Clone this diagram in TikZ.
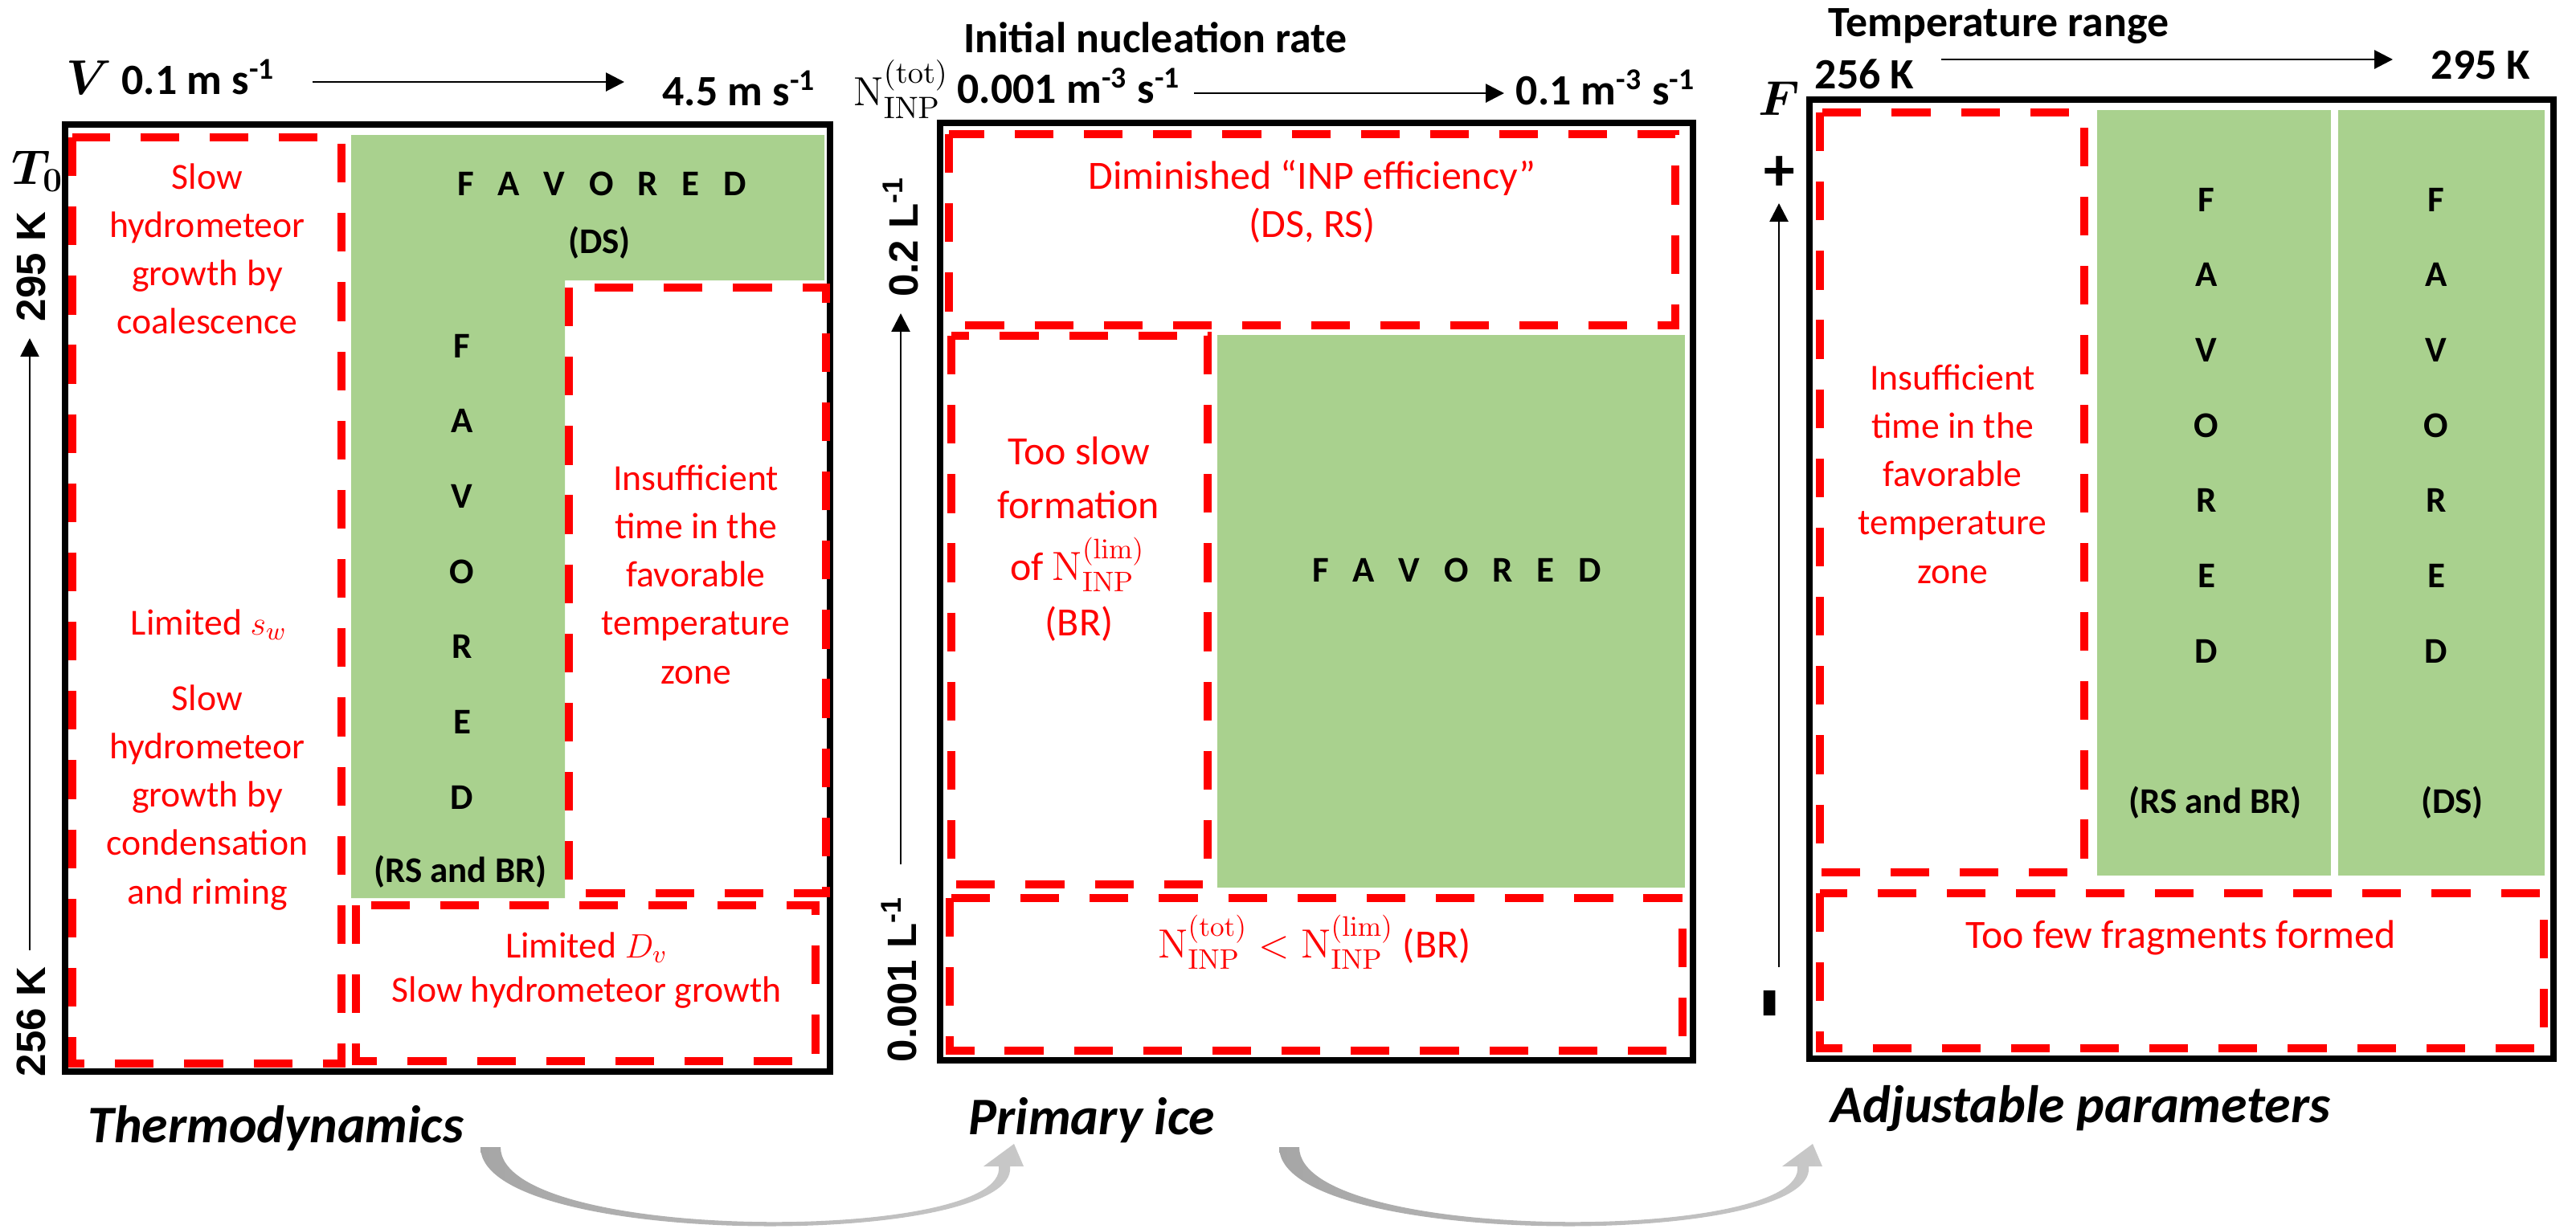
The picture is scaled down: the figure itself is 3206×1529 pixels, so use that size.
\documentclass[tikz,border=0pt]{standalone}
\usepackage{amsmath}
\usepackage[no-math]{fontspec}
\setmainfont{Carlito}
\newfontfamily\sidefont{Liberation Sans}
\usetikzlibrary{arrows.meta}

\definecolor{zonered}{HTML}{FF0000}
\definecolor{favgreen}{HTML}{A9D18E}
\definecolor{arrowdark}{HTML}{A6A6A6}
\definecolor{arrowlight}{HTML}{C8C8C8}

\newcommand{\spacedfav}{F\hspace{8.5pt}A\hspace{8.5pt}V\hspace{8.5pt}O\hspace{8.5pt}R\hspace{8.5pt}E\hspace{8.5pt}D}
\newcommand{\ninp}[1]{\mathrm{N}^{(\mathrm{#1})}_{\mathrm{INP}}}

\begin{document}
\begin{tikzpicture}[x=0.01cm, y=-0.01cm,
  panel/.style={draw=black, line width=2.3pt},
  zone/.style={draw=zonered, line width=3.1pt, dash pattern=on 13.7pt off 10.8pt},
  note/.style={text=zonered, font=\fontsize{13}{16}\selectfont, inner sep=0pt, anchor=base},
  bignote/.style={note, font=\fontsize{14.2}{17}\selectfont},
  fav/.style={font=\fontsize{12.8}{15}\selectfont\bfseries, inner sep=0pt, anchor=base},
  head/.style={font=\fontsize{15.3}{18}\selectfont\bfseries, inner sep=0pt, anchor=base west},
  title/.style={font=\fontsize{18.7}{22}\selectfont\bfseries\itshape, inner sep=0pt, anchor=base west},
  sym/.style={font=\fontsize{18}{21}\selectfont, inner sep=0pt, anchor=base west},
  side/.style={font=\sidefont\bfseries\fontsize{14.5}{17}\selectfont, rotate=90, inner sep=0pt, anchor=base},
  axis/.style={line width=0.8pt, -{Triangle[length=6.5pt, width=6.5pt]}},
]
\useasboundingbox (0,0) rectangle (3206,1529);

% favoured regions
\fill[favgreen] (437,168) -- (1026,168) -- (1026,349) -- (703,349) -- (703,1118) -- (437,1118) -- cycle;
\fill[favgreen] (1515,417) rectangle (2097,1105);
\fill[favgreen] (2610,137) rectangle (2901,1090);
\fill[favgreen] (2910,137) rectangle (3167,1090);

% panels
\draw[panel] (81,155) rectangle (1033,1334);
\draw[panel] (1170,153) rectangle (2107,1320);
\draw[panel] (2252,124) rectangle (3178,1318);

% limiting zones
\draw[zone] (90,171) rectangle (425,1324);
\draw[zone] (708,358) rectangle (1028,1112);
\draw[zone] (443,1127) rectangle (1015,1321);
\draw[zone] (1181,167) rectangle (2085,405);
\draw[zone] (1184,418) rectangle (1503,1101);
\draw[zone] (1182,1118) rectangle (2094,1308);
\draw[zone] (2265,140) rectangle (2594,1086);
\draw[zone] (2265,1112) rectangle (3166,1305);

% thermodynamics
\node[sym] (vel) at (82,117) {$\boldsymbol{V}$};
\node[head] (vlo) at (151,117) {0.1 m s\textsuperscript{-1}};
\node[head] (vhi) at (824,131) {4.5 m s\textsuperscript{-1}};
\coordinate (va) at (389,102);
\coordinate (vb) at (777,102);
\draw[axis] (va) -- (vb);
\node[sym] (tnull) at (14,229) {$\boldsymbol{T_0}$};
\node[side] (thi) at (56,332) {295 K};
\node[side] (tlo) at (56,1272) {256 K};
\coordinate (ta) at (37,1183);
\coordinate (tb) at (37,421);
\draw[axis] (ta) -- (tb);

\foreach \txt [count=\i from 0] in {Slow, hydrometeor, growth by, coalescence}
  \node[note] (coal\i) at (258, 235+60*\i) {\txt};
\node[note] (sw) at (260,790) {Limited $s_w$};
\foreach \txt [count=\i from 0] in {Slow, hydrometeor, growth by, condensation, and riming}
  \node[note] (cond\i) at (258, 884+60.25*\i) {\txt};

\node[fav] (favds) at (749,243) {\spacedfav};
\node[fav] (ds1) at (746,315) {(DS)};
\foreach \ch [count=\i from 0] in {F,A,V,O,R,E,D}
  \node[fav] (colA\i) at (575, 445+93.7*\i) {\ch};
\node[fav] (rsbr1) at (573,1098) {(RS and BR)};

\foreach \txt [count=\i from 0] in {Insufficient, time in the, favorable, temperature, zone}
  \node[note] (ins\i) at (866, 610+60.25*\i) {\txt};
\node[note] (dv) at (730,1192) {Limited $D_v$};
\node[note] (slowdv) at (730,1247) {Slow hydrometeor growth};
\node[title] (thermo) at (109,1422) {Thermodynamics};

% primary ice
\node[head, anchor=base] (nucl) at (1438,65) {Initial nucleation rate};
\node[sym, font=\fontsize{15}{18}\selectfont] (ntot) at (1062,131) {$\ninp{tot}$};
\node[head] (nlo) at (1191,128) {0.001 m\textsuperscript{-3} s\textsuperscript{-1}};
\coordinate (na) at (1486,116);
\coordinate (nb) at (1872,116);
\draw[axis] (na) -- (nb);
\node[head] (nhi) at (1886,130) {0.1 m\textsuperscript{-3} s\textsuperscript{-1}};
\node[side] (inphi) at (1142,295) {0.2 L\textsuperscript{-1}};
\node[side] (inplo) at (1140,1219) {0.001 L\textsuperscript{-1}};
\coordinate (ia) at (1121,1076);
\coordinate (ib) at (1121,390);
\draw[axis] (ia) -- (ib);

\node[bignote] (dimin) at (1633,235) {Diminished “INP efficiency”};
\node[bignote] (dsrs) at (1633,295) {(DS, RS)};
\node[bignote] (slow1) at (1343,578) {Too slow};
\node[bignote] (slow2) at (1342,645) {formation};
\node[bignote] (slow3) at (1341,722) {of $\ninp{lim}$};
\node[bignote] (slow4) at (1343,791) {(BR)};
\node[fav] (favmid) at (1813,724) {\spacedfav};
\node[bignote] (ncmp) at (1636,1192) {$\ninp{tot} < \ninp{lim}$ (BR)};
\node[title] (prim) at (1205,1412) {Primary ice};

% adjustable parameters
\node[head] (trange) at (2275,45) {Temperature range};
\node[head] (tlo3) at (2258,110) {256 K};
\coordinate (ra) at (2416,74);
\coordinate (rb) at (2978,74);
\draw[axis] (ra) -- (rb);
\node[head] (thi3) at (3025,98) {295 K};
\node[sym] (frag) at (2188,143) {$\boldsymbol{F}$};
\node[font=\fontsize{22}{24}\selectfont\bfseries, inner sep=0pt] (plus) at (2215,216) {+};
\node[font=\sidefont\bfseries\fontsize{35}{35}\selectfont, rotate=90, inner sep=0pt] (minus) at (2215,1249) {-};
\coordinate (fa) at (2214,1204);
\coordinate (fb) at (2214,253);
\draw[axis] (fa) -- (fb);

\foreach \txt [count=\i from 0] in {Insufficient, time in the, favorable, temperature, zone}
  \node[note] (insc\i) at (2430, 485+60.25*\i) {\txt};
\foreach \ch [count=\i from 0] in {F,A,V,O,R,E,D} {
  \node[fav] (colB\i) at (2746, 263+93.7*\i) {\ch};
  \node[fav] (colC\i) at (3032, 263+93.7*\i) {\ch};
}
\node[fav] (rsbr3) at (2757,1012) {(RS and BR)};
\node[fav] (ds3) at (3052,1012) {(DS)};
\node[bignote] (few) at (2714,1180) {Too few fragments formed};
\node[title] (adj) at (2278,1397) {Adjustable parameters};

% grey curved arrows
\foreach \dx in {0,994} {
  \begin{scope}[shift={(\dx,0)}]
    \shade[left color=arrowdark, right color=arrowlight]
      (598,1428) .. controls (598,1555) and (1270,1555) .. (1257,1452)
      -- (1274,1452) -- (1262,1424) -- (1224,1452) -- (1243,1452)
      .. controls (1255,1548) and (623,1548) .. (623,1428) -- cycle;
  \end{scope}
}

\end{tikzpicture}
\end{document}
